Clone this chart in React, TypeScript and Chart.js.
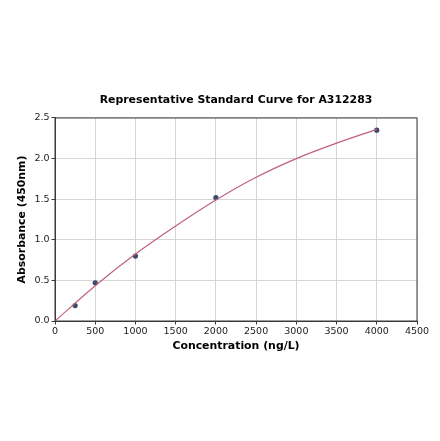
import { useEffect, useRef } from 'react';
import { Chart, registerables } from 'chart.js';

Chart.register(...registerables);

// standards
const standardConc = [250, 500, 1000, 2000, 4000];
const standardOD = [0.19, 0.47, 0.8, 1.52, 2.35];

// fitted curve, read at every 500 ng/L
const curveConc = [0, 500, 1000, 1500, 2000, 2500, 3000, 3500, 4000];
const curveOD = [0, 0.435, 0.825, 1.17, 1.49, 1.77, 2.0, 2.19, 2.36];

const xTicks = [0, 500, 1000, 1500, 2000, 2500, 3000, 3500, 4000, 4500];
const yTicks = [0, 0.5, 1.0, 1.5, 2.0, 2.5];

const FONT = "'DejaVu Sans', sans-serif";

// matplotlib-style box around the plot area
const frame = {
  id: 'frame',
  afterDraw(chart: Chart) {
    const { ctx, chartArea } = chart;
    ctx.save();
    ctx.strokeStyle = '#3a3a3a';
    ctx.lineWidth = 1;
    ctx.strokeRect(chartArea.left, chartArea.top, chartArea.right - chartArea.left, chartArea.bottom - chartArea.top);
    ctx.restore();
  },
};

export default function App() {
  const chartRef = useRef<HTMLCanvasElement>(null);
  const chartInstance = useRef<Chart | null>(null);

  useEffect(() => {
    if (!chartRef.current) return;
    if (chartInstance.current) chartInstance.current.destroy();

    chartInstance.current = new Chart(chartRef.current, {
      type: 'scatter',
      data: {
        datasets: [
          {
            type: 'line',
            data: curveConc.map((x, i) => ({ x, y: curveOD[i] })),
            borderColor: '#c0607e',
            borderWidth: 1.2,
            pointRadius: 0,
            cubicInterpolationMode: 'monotone',
            fill: false,
          },
          {
            data: standardConc.map((x, i) => ({ x, y: standardOD[i] })),
            backgroundColor: '#3b4a6b',
            borderColor: '#3b4a6b',
            pointRadius: 2.6,
            borderWidth: 0,
          },
        ],
      },
      options: {
        animation: false,
        responsive: true,
        maintainAspectRatio: false,
        layout: { padding: { top: 88, right: 23, bottom: 0, left: 0 } },
        plugins: {
          legend: { display: false },
          tooltip: { enabled: false },
          title: {
            display: true,
            fullSize: false,
            text: 'Representative Standard Curve for A312283',
            color: '#000',
            font: { family: FONT, size: 10.9, weight: 'bold' },
            padding: { top: 5.4, bottom: 11.5 },
          },
        },
        scales: {
          x: {
            type: 'linear',
            min: 0,
            max: 4500,
            afterFit: (scale: any) => {
              scale.height = 120;
            },
            afterBuildTicks: (scale: any) => {
              scale.ticks = xTicks.map((value) => ({ value }));
            },
            ticks: {
              color: '#222',
              font: { family: FONT, size: 9.5 },
              padding: 1,
              maxRotation: 0,
              autoSkip: false,
              callback: (v: any) => String(v),
            },
            grid: { color: '#d6d6d6', tickColor: '#3a3a3a', tickLength: 3.5 },
            border: { color: '#3a3a3a' },
            title: {
              display: true,
              text: 'Concentration (ng/L)',
              color: '#000',
              font: { family: FONT, size: 10.9, weight: 'bold' },
              padding: { top: 0, bottom: 88.5 },
            },
          },
          y: {
            type: 'linear',
            min: 0,
            max: 2.5,
            afterFit: (scale: any) => {
              scale.width = 55;
            },
            afterBuildTicks: (scale: any) => {
              scale.ticks = yTicks.map((value) => ({ value }));
            },
            ticks: {
              color: '#222',
              font: { family: FONT, size: 9.5 },
              padding: 2,
              autoSkip: false,
              callback: (v: any) => Number(v).toFixed(1),
            },
            grid: { color: '#d6d6d6', tickColor: '#3a3a3a', tickLength: 3.5 },
            border: { color: '#3a3a3a' },
            title: {
              display: true,
              text: 'Absorbance (450nm)',
              color: '#000',
              font: { family: FONT, size: 10.9, weight: 'bold' },
              padding: { top: 15.5, bottom: 0 },
            },
          },
        },
      },
      plugins: [frame],
    });

    return () => {
      if (chartInstance.current) {
        chartInstance.current.destroy();
        chartInstance.current = null;
      }
    };
  }, []);

  return (
    <div style={{ position: 'absolute', top: 0, left: 0, width: 440, height: 441, background: '#fff' }}>
      <canvas ref={chartRef} />
    </div>
  );
}
